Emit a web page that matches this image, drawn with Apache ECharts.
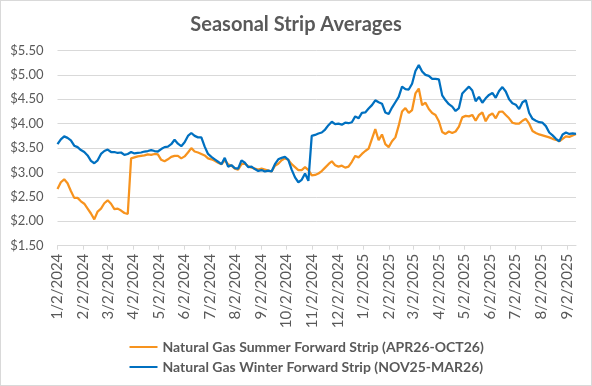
<!DOCTYPE html>
<html>
<head>
<meta charset="utf-8">
<script src="https://cdn.jsdelivr.net/npm/echarts@6/dist/echarts.min.js"></script>
<style>
  html, body { margin: 0; padding: 0; background: #fff; }
  #wrap { position: relative; width: 592px; height: 386px; }
  #chart { width: 592px; height: 386px; }
  #frame { position: absolute; left: 0; top: 0; width: 592px; height: 386px; box-sizing: border-box; border: 1px solid #d9d9d9; pointer-events: none; }
</style>
</head>
<body>
<div id="wrap"><div id="chart"></div><div id="frame"></div></div>
<script>
const chartTitle = 'Seasonal Strip Averages';
const seriesNames = ['Natural Gas Summer Forward Strip (APR26-OCT26)', 'Natural Gas Winter Forward Strip (NOV25-MAR26)'];

const dates = [
'2024-01-02','2024-01-06','2024-01-10','2024-01-14','2024-01-18','2024-01-22','2024-01-26','2024-01-30',
'2024-02-03','2024-02-07','2024-02-11','2024-02-15','2024-02-19','2024-02-23','2024-02-27',
'2024-03-02','2024-03-06','2024-03-10','2024-03-14','2024-03-18','2024-03-22','2024-03-26','2024-03-30',
'2024-04-03','2024-04-07','2024-04-11','2024-04-15','2024-04-19','2024-04-23','2024-04-27',
'2024-05-01','2024-05-05','2024-05-09','2024-05-13','2024-05-17','2024-05-21','2024-05-25','2024-05-29',
'2024-06-02','2024-06-06','2024-06-10','2024-06-14','2024-06-18','2024-06-22','2024-06-26','2024-06-30',
'2024-07-04','2024-07-08','2024-07-12','2024-07-16','2024-07-20','2024-07-24','2024-07-28',
'2024-08-01','2024-08-05','2024-08-09','2024-08-13','2024-08-17','2024-08-21','2024-08-25','2024-08-29',
'2024-09-02','2024-09-06','2024-09-10','2024-09-14','2024-09-18','2024-09-22','2024-09-26','2024-09-30',
'2024-10-04','2024-10-08','2024-10-12','2024-10-16','2024-10-20','2024-10-24','2024-10-28',
'2024-11-01','2024-11-05','2024-11-09','2024-11-13','2024-11-17','2024-11-21','2024-11-25','2024-11-29',
'2024-12-03','2024-12-07','2024-12-11','2024-12-15','2024-12-19','2024-12-23','2024-12-27','2024-12-31',
'2025-01-04','2025-01-08','2025-01-12','2025-01-16','2025-01-20','2025-01-24','2025-01-28',
'2025-02-01','2025-02-05','2025-02-09','2025-02-13','2025-02-17','2025-02-21','2025-02-25',
'2025-03-01','2025-03-05','2025-03-09','2025-03-13','2025-03-17','2025-03-21','2025-03-25','2025-03-29',
'2025-04-02','2025-04-06','2025-04-10','2025-04-14','2025-04-18','2025-04-22','2025-04-26','2025-04-30',
'2025-05-04','2025-05-08','2025-05-12','2025-05-16','2025-05-20','2025-05-24','2025-05-28',
'2025-06-01','2025-06-05','2025-06-09','2025-06-13','2025-06-17','2025-06-21','2025-06-25','2025-06-29',
'2025-07-03','2025-07-07','2025-07-11','2025-07-15','2025-07-19','2025-07-23','2025-07-27','2025-07-31',
'2025-08-04','2025-08-08','2025-08-12','2025-08-16','2025-08-20','2025-08-24','2025-08-28',
'2025-09-01','2025-09-05','2025-09-09','2025-09-13'
];

const summer = [
2.66,2.80,2.86,2.78,2.62,2.48,2.48,2.41,2.36,2.26,
2.16,2.04,2.20,2.26,2.37,2.43,2.36,2.25,2.26,2.22,
2.17,2.15,3.29,3.31,3.33,3.34,3.35,3.37,3.36,3.38,
3.37,3.26,3.23,3.27,3.32,3.34,3.34,3.29,3.33,3.41,
3.50,3.43,3.41,3.38,3.35,3.29,3.27,3.24,3.20,3.17,
3.25,3.17,3.14,3.08,3.06,3.17,3.18,3.13,3.10,3.08,
3.06,3.08,3.06,3.04,3.02,3.14,3.18,3.25,3.29,3.26,
3.17,3.11,3.05,3.05,3.11,3.05,2.94,2.95,2.98,3.03,
3.10,3.17,3.23,3.15,3.12,3.14,3.10,3.12,3.22,3.34,
3.31,3.38,3.44,3.49,3.69,3.89,3.66,3.78,3.58,3.52,
3.64,3.72,3.96,4.25,4.32,4.22,4.28,4.62,4.72,4.38,
4.43,4.30,4.22,4.18,4.05,3.83,3.79,3.84,3.81,3.84,
3.94,4.13,4.16,4.15,4.18,4.06,4.18,4.23,4.05,4.17,
4.21,4.11,4.24,4.25,4.18,4.11,4.02,4.00,4.00,4.06,
4.10,4.00,3.85,3.81,3.78,3.76,3.74,3.72,3.69,3.67,
3.64,3.69,3.74,3.73,3.76,3.79
];

const winter = [
3.58,3.68,3.74,3.71,3.66,3.55,3.52,3.46,3.42,3.35,
3.24,3.19,3.25,3.38,3.44,3.47,3.42,3.42,3.40,3.41,
3.36,3.38,3.42,3.39,3.40,3.41,3.43,3.44,3.46,3.44,
3.43,3.48,3.52,3.53,3.58,3.67,3.59,3.54,3.62,3.75,
3.81,3.75,3.72,3.72,3.53,3.38,3.32,3.27,3.22,3.17,
3.30,3.12,3.15,3.09,3.08,3.25,3.20,3.11,3.12,3.07,
3.03,3.05,3.02,3.04,3.02,3.17,3.27,3.30,3.32,3.26,
3.06,2.90,2.80,2.85,2.98,2.83,3.75,3.77,3.80,3.82,
3.88,3.97,4.04,3.99,4.00,3.98,4.02,4.01,4.03,4.15,
4.11,4.22,4.23,4.31,4.38,4.48,4.44,4.41,4.23,4.20,
4.33,4.44,4.55,4.76,4.71,4.70,4.82,5.08,5.20,5.07,
5.00,4.98,4.92,4.92,4.91,4.58,4.48,4.40,4.35,4.26,
4.32,4.62,4.69,4.76,4.68,4.46,4.55,4.43,4.52,4.59,
4.63,4.53,4.67,4.75,4.66,4.50,4.42,4.39,4.30,4.44,
4.48,4.22,4.10,4.06,4.03,4.02,3.95,3.82,3.76,3.69,
3.64,3.78,3.82,3.79,3.80,3.79
];

const tickLabels = ['1/2/2024','2/2/2024','3/2/2024','4/2/2024','5/2/2024','6/2/2024','7/2/2024','8/2/2024','9/2/2024','10/2/2024','11/2/2024','12/2/2024','1/2/2025','2/2/2025','3/2/2025','4/2/2025','5/2/2025','6/2/2025','7/2/2025','8/2/2025','9/2/2025'];

const yMin = 1.5, yMax = 5.5, yStep = 0.5;
const colors = ['#F7931E', '#0070C0'];

const DAY = 86400000;
function parseMDY(s) { const p = s.split('/').map(Number); return Date.UTC(p[2], p[0] - 1, p[1]) / DAY; }
function parseISO(s) { const p = s.split('-').map(Number); return Date.UTC(p[0], p[1] - 1, p[2]) / DAY; }

const tickValues = tickLabels.map(parseMDY);
const labelByDay = {};
tickValues.forEach((t, i) => { labelByDay[t] = tickLabels[i]; });

const font = 'Lato, "Noto Sans", sans-serif';
const gray = '#595959';

const chart = echarts.init(document.getElementById('chart'), null, { renderer: 'canvas' });
chart.setOption({
  animation: false,
  backgroundColor: '#ffffff',
  title: {
    text: chartTitle,
    left: 'center',
    top: 10,
    textStyle: { fontFamily: font, fontWeight: 'bold', fontSize: 20, color: gray }
  },
  legend: {
    orient: 'vertical',
    left: 123.5,
    top: 335,
    itemWidth: 28,
    itemHeight: 14,
    itemGap: 6,
    itemStyle: { opacity: 0 },
    lineStyle: { width: 2 },
    data: seriesNames,
    textStyle: { fontFamily: font, fontWeight: 'bold', fontSize: 14, color: gray }
  },
  grid: { left: 57.5, right: 16, top: 50.5, bottom: 140.3, containLabel: false },
  xAxis: {
    type: 'value',
    scale: true,
    min: parseISO(dates[0]),
    max: parseISO(dates[dates.length - 1]),
    axisLine: { show: true, onZero: false, lineStyle: { color: '#d9d9d9', width: 1 } },
    axisTick: { show: true, length: 4, lineStyle: { color: '#d9d9d9' }, customValues: tickValues },
    axisLabel: {
      customValues: tickValues,
      rotate: 90,
      margin: 8,
      fontFamily: font,
      fontSize: 15,
      color: gray,
      hideOverlap: false,
      formatter: function (v) { return labelByDay[Math.round(v)] || ''; }
    },
    splitLine: { show: false }
  },
  yAxis: {
    type: 'value',
    min: yMin,
    max: yMax,
    interval: yStep,
    axisLine: { show: false },
    axisTick: { show: false },
    axisLabel: {
      margin: 14,
      fontFamily: font,
      fontSize: 13,
      color: gray,
      formatter: function (v) { return '$' + v.toFixed(2); }
    },
    splitLine: { show: true, lineStyle: { color: '#d9d9d9', width: 1 } }
  },
  series: [
    {
      name: seriesNames[0],
      type: 'line',
      symbol: 'none',
      color: colors[0],
      lineStyle: { color: colors[0], width: 2.25 },
      data: dates.map((d, i) => [parseISO(d), summer[i]])
    },
    {
      name: seriesNames[1],
      type: 'line',
      symbol: 'none',
      color: colors[1],
      lineStyle: { color: colors[1], width: 2.25 },
      data: dates.map((d, i) => [parseISO(d), winter[i]])
    }
  ]
});
</script>
</body>
</html>
